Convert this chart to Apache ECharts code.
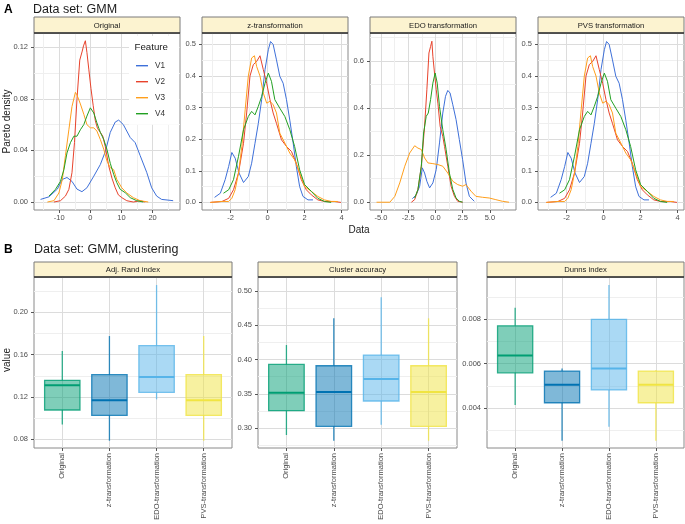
<!DOCTYPE html>
<html><head><meta charset="utf-8">
<script src="https://cdn.jsdelivr.net/npm/echarts@6/dist/echarts.min.js"></script>
<style>html,body{margin:0;padding:0;background:#fff}#c{width:685px;height:524px}</style>
</head><body><div id="c"></div>
<script>
// ---------- DATA ----------
const features = ['V1', 'V2', 'V3', 'V4'];
const densityPanels = ['Original', 'z-transformation', 'EDO transformation', 'PVS transformation'];

const origV1 = [[-16,0.002],[-13.3,0.004],[-10.6,0.010],[-9,0.0175],[-7.5,0.019],[-5.9,0.016],[-4.3,0.010],[-2.7,0.008],[-1.1,0.011],[1.1,0.020],[3.2,0.029],[4.8,0.039],[6.4,0.054],[8.0,0.062],[9.1,0.0635],[10.6,0.060],[12.8,0.050],[14.4,0.046],[16,0.036],[18.1,0.023],[19.7,0.011],[21.3,0.0046],[22.9,0.002],[25.6,0.0013],[26.6,0.001]];
const origV2 = [[-11.7,0],[-9.6,0.001],[-8,0.0046],[-6.9,0.0098],[-5.9,0.0227],[-5.1,0.046],[-4.3,0.0795],[-3.4,0.110],[-2.6,0.117],[-2.2,0.121],[-1.6,0.125],[-1.1,0.116],[-0.5,0.103],[0.2,0.088],[0.9,0.075],[1.6,0.063],[2.3,0.057],[3.2,0.054],[4.0,0.051],[4.8,0.043],[5.9,0.028],[7.0,0.018],[8.0,0.011],[9.0,0.0055],[10.1,0.0034],[11.7,0.001],[13.8,0],[16,0.001],[17.6,0]];
const origV3 = [[-13.8,0],[-11.7,0.001],[-10.1,0.007],[-9,0.0175],[-8,0.036],[-6.9,0.056],[-5.9,0.074],[-4.8,0.085],[-4.3,0.083],[-3.2,0.076],[-2.1,0.068],[-1.1,0.060],[0,0.0575],[1.1,0.0575],[2.1,0.055],[3.2,0.0485],[4.3,0.041],[5.3,0.032],[6.4,0.0266],[7.5,0.025],[8.5,0.0175],[10.1,0.011],[11.7,0.007],[13.8,0.0034],[16,0.001],[18.6,0]];
const origV4 = [[-13.3,0.0046],[-11.2,0.0098],[-9.6,0.016],[-8.5,0.025],[-7.5,0.038],[-6.4,0.046],[-5.3,0.051],[-4.3,0.051],[-3.2,0.056],[-2.1,0.060],[-1.1,0.0666],[0,0.073],[1.1,0.069],[2.1,0.0614],[3.2,0.054],[4.3,0.0485],[5.3,0.041],[6.4,0.030],[7.5,0.0214],[8.5,0.015],[9.6,0.0098],[11.2,0.0072],[12.8,0.0034],[14.9,0.001],[17,0]];

const zV1 = [[-2.86,0.016],[-2.55,0.029],[-2.29,0.072],[-2.1,0.114],[-1.93,0.158],[-1.75,0.14],[-1.54,0.093],[-1.3,0.063],[-1.04,0.082],[-0.86,0.124],[-0.68,0.187],[-0.5,0.25],[-0.32,0.325],[-0.14,0.42],[0.04,0.483],[0.16,0.509],[0.3,0.5],[0.48,0.451],[0.66,0.399],[0.84,0.377],[1.02,0.325],[1.2,0.26],[1.38,0.188],[1.55,0.114],[1.73,0.05],[1.91,0.019],[2.18,0.008],[2.45,0.008]];
const zV2 = [[-3.09,0],[-2.46,0.003],[-2.1,0.013],[-1.84,0.04],[-1.57,0.093],[-1.3,0.187],[-1.13,0.283],[-0.95,0.4],[-0.77,0.436],[-0.59,0.446],[-0.41,0.464],[-0.23,0.42],[-0.05,0.377],[0.13,0.325],[0.3,0.283],[0.48,0.25],[0.75,0.198],[1.02,0.177],[1.29,0.161],[1.55,0.124],[1.82,0.072],[2.09,0.04],[2.36,0.024],[2.71,0.008],[3.07,0.003],[3.6,0.003],[3.96,0]];
const zV3 = [[-3.09,0],[-2.46,0.003],[-2.1,0.003],[-1.93,0.013],[-1.75,0.04],[-1.57,0.093],[-1.39,0.177],[-1.21,0.293],[-1.04,0.4],[-0.86,0.457],[-0.71,0.464],[-0.59,0.43],[-0.41,0.4],[-0.23,0.346],[-0.05,0.314],[0.13,0.32],[0.3,0.309],[0.48,0.283],[0.66,0.219],[0.93,0.188],[1.2,0.156],[1.46,0.135],[1.73,0.093],[2.0,0.05],[2.36,0.035],[2.71,0.019],[3.07,0.008],[3.43,0.003],[3.79,0.003]];
const zV4 = [[-2.38,0.029],[-2.1,0.04],[-1.84,0.072],[-1.57,0.146],[-1.3,0.23],[-1.04,0.272],[-0.86,0.288],[-0.68,0.277],[-0.5,0.304],[-0.32,0.335],[-0.14,0.377],[0.04,0.409],[0.21,0.383],[0.39,0.325],[0.66,0.298],[0.93,0.272],[1.2,0.23],[1.46,0.177],[1.73,0.103],[2.0,0.056],[2.36,0.035],[2.71,0.013],[3.07,0.003],[3.43,0]];

const edoV1 = [[-2.11,0.015],[-1.75,0.032],[-1.44,0.068],[-1.2,0.146],[-0.99,0.124],[-0.78,0.089],[-0.53,0.061],[-0.23,0.082],[0.08,0.139],[0.38,0.252],[0.68,0.379],[0.93,0.45],[1.14,0.475],[1.35,0.464],[1.6,0.414],[1.9,0.351],[2.2,0.266],[2.5,0.181],[2.81,0.082],[3.12,0.025],[3.57,0.004]];
const edoV2 = [[-2.2,0],[-1.9,0.011],[-1.6,0.054],[-1.29,0.153],[-0.99,0.322],[-0.78,0.478],[-0.59,0.634],[-0.44,0.662],[-0.32,0.684],[-0.23,0.62],[-0.08,0.549],[0.08,0.478],[0.23,0.421],[0.44,0.322],[0.68,0.28],[0.84,0.237],[1.14,0.153],[1.44,0.068],[1.75,0.025],[2.05,0.004],[2.5,0]];
const edoV3 = [[-5.4,0],[-4.18,0],[-3.72,0.025],[-3.27,0.082],[-2.81,0.153],[-2.36,0.209],[-1.9,0.24],[-1.6,0.23],[-1.29,0.224],[-0.99,0.188],[-0.68,0.167],[-0.23,0.164],[0.23,0.16],[0.68,0.153],[1.14,0.124],[1.6,0.089],[2.05,0.075],[2.5,0.068],[2.81,0.075],[3.27,0.047],[3.72,0.025],[4.33,0.021],[4.94,0.018],[5.55,0.011],[6.15,0.004],[6.76,0]];
const edoV4 = [[-1.9,0.018],[-1.6,0.054],[-1.29,0.153],[-1.08,0.294],[-0.84,0.365],[-0.65,0.379],[-0.44,0.436],[-0.23,0.506],[-0.02,0.549],[0.17,0.506],[0.38,0.407],[0.68,0.308],[0.99,0.223],[1.29,0.124],[1.6,0.054],[1.9,0.018],[2.2,0.004],[2.5,0]];

// PVS transformation curves read identical to the z-transformation ones
const pvsV1 = zV1, pvsV2 = zV2, pvsV3 = zV3, pvsV4 = zV4;

const methods = ['Original', 'z-transformation', 'EDO-transformation', 'PVS-transformation'];
const metricNames = ['Adj. Rand index', 'Cluster accuracy', 'Dunns index'];
// [lower whisker, Q1, median, Q3, upper whisker]
const ariBoxes = [[0.094,0.1077,0.131,0.1358,0.1635],[0.0787,0.1027,0.1169,0.1411,0.1776],[0.1178,0.1244,0.1389,0.1685,0.2258],[0.0787,0.1027,0.1169,0.1411,0.1776]];
const accBoxes = [[0.2903,0.3256,0.3517,0.3929,0.4211],[0.282,0.3029,0.3528,0.391,0.4599],[0.3052,0.3397,0.3716,0.4065,0.4904],[0.282,0.3029,0.3528,0.391,0.4599]];
const dunnBoxes = [[0.00414,0.00559,0.00637,0.00771,0.00852],[0.00253,0.00424,0.00505,0.00567,0.00579],[0.00316,0.00482,0.00578,0.0080,0.00955],[0.00253,0.00424,0.00505,0.00567,0.00571]];

// tick values
const origXTicks = [-10, 0, 10, 20], origXMinor = [-15, -5, 5, 15, 25];
const origYTicks = [0, 0.04, 0.08, 0.12], origYMinor = [0.02, 0.06, 0.10];
const zXTicks = [-2, 0, 2, 4], zXMinor = [-3, -1, 1, 3];
const zYTicks = [0, 0.1, 0.2, 0.3, 0.4, 0.5], zYMinor = [0.05, 0.15, 0.25, 0.35, 0.45];
const edoXTicks = [-5, -2.5, 0, 2.5, 5], edoXMinor = [-3.75, -1.25, 1.25, 3.75, 6.25];
const edoYTicks = [0, 0.2, 0.4, 0.6], edoYMinor = [0.1, 0.3, 0.5, 0.7];
const ariTicks = [0.08, 0.12, 0.16, 0.20], ariMinor = [0.10, 0.14, 0.18, 0.22];
const accTicks = [0.30, 0.35, 0.40, 0.45, 0.50], accMinor = [0.275, 0.325, 0.375, 0.425, 0.475];
const dunnTicks = [0.004, 0.006, 0.008], dunnMinor = [0.003, 0.005, 0.007, 0.009];
const methodTicks = [0, 1, 2, 3];

// ---------- STYLE / LAYOUT ----------
const FONT = "'Liberation Sans', Arial, Helvetica, sans-serif";
const featureColors = ['#3E70D9', '#E8432C', '#FF9F1C', '#22A022'];
const methodColors = ['#009E73', '#0072B2', '#56B4E9', '#F0E442'];
const STRIP_FILL = '#FCF3D0';

function rgba(hex, a) {
  const n = parseInt(hex.slice(1), 16);
  return 'rgba(' + ((n >> 16) & 255) + ',' + ((n >> 8) & 255) + ',' + (n & 255) + ',' + a + ')';
}

const option = {
  animation: false,
  backgroundColor: '#fff',
  textStyle: { fontFamily: FONT },
  grid: [], xAxis: [], yAxis: [], series: [], graphic: []
};

function mainAxis(dim, gi, min, max, ticks, fmt, rotate) {
  return {
    type: 'value', gridIndex: gi, min: min, max: max,
    position: dim === 'x' ? 'bottom' : 'left',
    axisLine: { show: false, onZero: false },
    axisTick: { show: true, length: 3, lineStyle: { color: '#555', width: 1 }, customValues: ticks },
    axisLabel: { show: true, customValues: ticks, formatter: fmt, fontSize: 7.5, color: '#4d4d4d',
      fontFamily: FONT, margin: dim === 'x' ? (rotate ? 5 : 4) : 6, rotate: rotate || 0 },
    splitLine: { show: true, lineStyle: { color: '#dcdcdc', width: 1 } }
  };
}
function minorAxis(dim, gi, min, max, ticks) {
  return {
    type: 'value', gridIndex: gi, min: min, max: max,
    position: dim === 'x' ? 'bottom' : 'left',
    axisLine: { show: false, onZero: false },
    axisTick: { show: false, customValues: ticks },
    axisLabel: { show: false, customValues: ticks },
    splitLine: { show: true, lineStyle: { color: '#efefef', width: 1 } }
  };
}

function addPanel(p) {
  const gi = option.grid.length;
  option.grid.push({ left: p.left, top: p.top, width: p.width, height: p.height, show: true,
    borderColor: '#8a8a8a', borderWidth: 1, backgroundColor: '#fff', containLabel: false });
  if (p.xMinor) option.xAxis.push(minorAxis('x', gi, p.xMin, p.xMax, p.xMinor));
  const xi = option.xAxis.length;
  option.xAxis.push(mainAxis('x', gi, p.xMin, p.xMax, p.xTicks, p.xFmt, p.xRotate));
  option.yAxis.push(minorAxis('y', gi, p.yMin, p.yMax, p.yMinor));
  const yi = option.yAxis.length;
  option.yAxis.push(mainAxis('y', gi, p.yMin, p.yMax, p.yTicks, p.yFmt));
  // strip
  option.graphic.push({ type: 'rect', z: 10,
    shape: { x: p.left, y: p.stripTop, width: p.width, height: p.top - p.stripTop },
    style: { fill: STRIP_FILL, stroke: '#7a7a7a', lineWidth: 1 } });
  option.graphic.push({ type: 'line', z: 11,
    shape: { x1: p.left, y1: p.top, x2: p.left + p.width, y2: p.top },
    style: { stroke: '#333', lineWidth: 1.3 } });
  option.graphic.push({ type: 'text', z: 12, x: p.left + p.width / 2, y: (p.stripTop + p.top) / 2 + 0.5,
    style: { text: p.title, fontSize: 7.7, fill: '#1a1a1a', fontFamily: FONT, align: 'center', verticalAlign: 'middle' } });
  return { xi: xi, yi: yi };
}

// ---------- TOP: density panels ----------
const topLefts = [34, 202, 370, 538];
const topCfg = [
  { xMin: -18.1, xMax: 28.8, xTicks: origXTicks, xMinor: origXMinor, xFmt: v => String(v),
    yMin: -0.0062, yMax: 0.131, yTicks: origYTicks, yMinor: origYMinor, yFmt: v => v.toFixed(2),
    curves: [origV1, origV2, origV3, origV4] },
  { xMin: -3.54, xMax: 4.34, xTicks: zXTicks, xMinor: zXMinor, xFmt: v => String(v),
    yMin: -0.024, yMax: 0.536, yTicks: zYTicks, yMinor: zYMinor, yFmt: v => v.toFixed(1),
    curves: [zV1, zV2, zV3, zV4] },
  { xMin: -6.0, xMax: 7.4, xTicks: edoXTicks, xMinor: edoXMinor, xFmt: v => v.toFixed(1),
    yMin: -0.033, yMax: 0.719, yTicks: edoYTicks, yMinor: edoYMinor, yFmt: v => v.toFixed(1),
    curves: [edoV1, edoV2, edoV3, edoV4] },
  { xMin: -3.54, xMax: 4.34, xTicks: zXTicks, xMinor: zXMinor, xFmt: v => String(v),
    yMin: -0.024, yMax: 0.536, yTicks: zYTicks, yMinor: zYMinor, yFmt: v => v.toFixed(1),
    curves: [pvsV1, pvsV2, pvsV3, pvsV4] }
];
topCfg.forEach((c, k) => {
  const ax = addPanel(Object.assign({ left: topLefts[k], top: 33, width: 146, height: 177, stripTop: 17,
    title: densityPanels[k] }, c));
  c.curves.forEach((d, j) => {
    option.series.push({ type: 'line', name: features[j], xAxisIndex: ax.xi, yAxisIndex: ax.yi,
      data: d, showSymbol: false, symbol: 'none', smooth: false, clip: true,
      lineStyle: { color: featureColors[j], width: 1 }, itemStyle: { color: featureColors[j] } });
  });
});

// ---------- BOTTOM: box plots ----------
const botLefts = [34, 258, 487];
const botWidths = [198, 199, 197];
const botCfg = [
  { yMin: 0.0718, yMax: 0.2334, yTicks: ariTicks, yMinor: ariMinor, yFmt: v => v.toFixed(2), boxes: ariBoxes },
  { yMin: 0.2714, yMax: 0.520, yTicks: accTicks, yMinor: accMinor, yFmt: v => v.toFixed(2), boxes: accBoxes },
  { yMin: 0.0022, yMax: 0.00991, yTicks: dunnTicks, yMinor: dunnMinor, yFmt: v => v.toFixed(3), boxes: dunnBoxes }
];
function renderBox(params, api) {
  const i = api.value(0);
  const col = methodColors[i];
  const lo = api.coord([i, api.value(1)]);
  const q1 = api.coord([i, api.value(2)]);
  const md = api.coord([i, api.value(3)]);
  const q3 = api.coord([i, api.value(4)]);
  const hi = api.coord([i, api.value(5)]);
  const half = api.size([0.75, 0])[0] / 2;
  const stroke = rgba(col, 0.8);
  return { type: 'group', children: [
    { type: 'line', shape: { x1: lo[0], y1: lo[1], x2: q1[0], y2: q1[1] }, style: { stroke: stroke, lineWidth: 1.3 } },
    { type: 'line', shape: { x1: q3[0], y1: q3[1], x2: hi[0], y2: hi[1] }, style: { stroke: stroke, lineWidth: 1.3 } },
    { type: 'rect', shape: { x: q3[0] - half, y: q3[1], width: 2 * half, height: q1[1] - q3[1] },
      style: { fill: rgba(col, 0.5), stroke: stroke, lineWidth: 1.3 } },
    { type: 'line', shape: { x1: md[0] - half, y1: md[1], x2: md[0] + half, y2: md[1] },
      style: { stroke: col, lineWidth: 2 } }
  ] };
}
botCfg.forEach((c, k) => {
  const ax = addPanel(Object.assign({ left: botLefts[k], top: 277, width: botWidths[k], height: 171, stripTop: 262,
    title: metricNames[k], xMin: -0.6, xMax: 3.6, xTicks: methodTicks, xMinor: null,
    xFmt: v => methods[Math.round(v)], xRotate: 90 }, c));
  option.series.push({ type: 'custom', name: metricNames[k], xAxisIndex: ax.xi, yAxisIndex: ax.yi,
    data: c.boxes.map((b, i) => [i].concat(b)), renderItem: renderBox, clip: false });
});

// ---------- legend & texts ----------
option.legend = {
  show: true, orient: 'vertical', left: 129, top: 36, padding: [23.7, 14, 5, 7],
  itemWidth: 12, itemHeight: 1.4, itemGap: 4, icon: 'rect', backgroundColor: '#fff',
  selectedMode: false, data: features,
  textStyle: { fontSize: 8.2, color: '#333', fontFamily: FONT, lineHeight: 12, padding: [0, 0, 0, 2] }
};
option.graphic.push(
  { type: 'text', z: 100, x: 134.5, y: 47, style: { text: 'Feature', fontSize: 9.7, fill: '#1a1a1a', fontFamily: FONT, align: 'left', verticalAlign: 'middle' } },
  { type: 'text', z: 100, x: 4, y: 9.5, style: { text: 'A', fontSize: 12, fontWeight: 'bold', fill: '#000', fontFamily: FONT, align: 'left', verticalAlign: 'middle' } },
  { type: 'text', z: 100, x: 33, y: 9.5, style: { text: 'Data set: GMM', fontSize: 12.5, fill: '#1a1a1a', fontFamily: FONT, align: 'left', verticalAlign: 'middle' } },
  { type: 'text', z: 100, x: 4, y: 250, style: { text: 'B', fontSize: 12, fontWeight: 'bold', fill: '#000', fontFamily: FONT, align: 'left', verticalAlign: 'middle' } },
  { type: 'text', z: 100, x: 34, y: 250, style: { text: 'Data set: GMM, clustering', fontSize: 12.5, fill: '#1a1a1a', fontFamily: FONT, align: 'left', verticalAlign: 'middle' } },
  { type: 'text', z: 100, x: 359, y: 230, style: { text: 'Data', fontSize: 10, fill: '#1a1a1a', fontFamily: FONT, align: 'center', verticalAlign: 'middle' } },
  { type: 'text', z: 100, x: 7, y: 121.5, rotation: Math.PI / 2, style: { text: 'Pareto density', fontSize: 10, fill: '#1a1a1a', fontFamily: FONT, align: 'center', verticalAlign: 'middle' } },
  { type: 'text', z: 100, x: 7, y: 360, rotation: Math.PI / 2, style: { text: 'value', fontSize: 10, fill: '#1a1a1a', fontFamily: FONT, align: 'center', verticalAlign: 'middle' } }
);

const chart = echarts.init(document.getElementById('c'), null, { renderer: 'canvas' });
chart.setOption(option);
</script>
</body></html>
